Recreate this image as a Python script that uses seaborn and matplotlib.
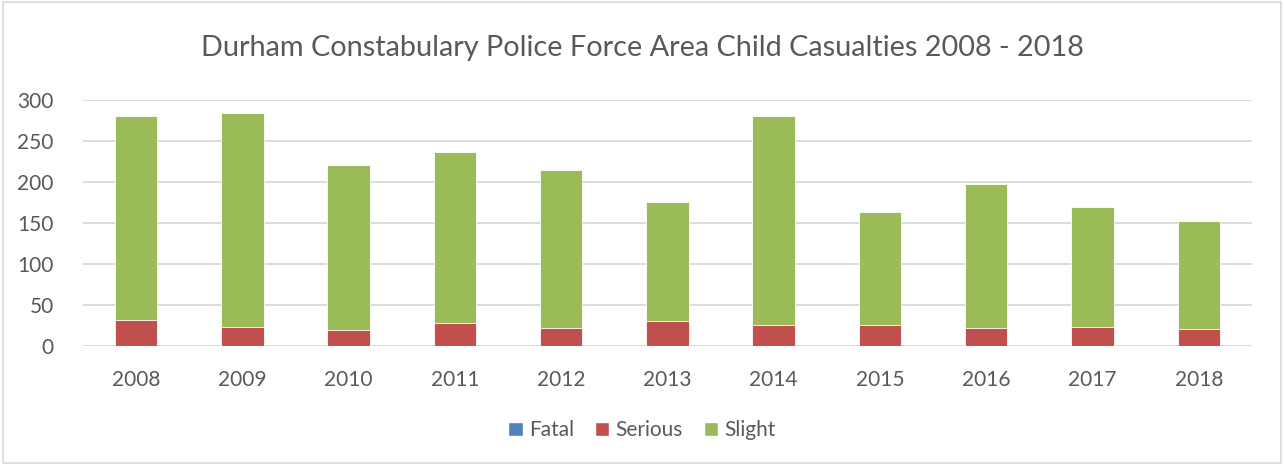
import matplotlib
matplotlib.use("Agg")
import matplotlib.pyplot as plt
import numpy as np
import pandas as pd
import seaborn as sns
from matplotlib.patches import Patch, Rectangle

YEARS = ["2008", "2009", "2010", "2011", "2012", "2013", "2014", "2015", "2016", "2017", "2018"]
FATAL = [0, 0, 0, 0, 0, 0, 0, 0, 0, 0, 0]
SERIOUS = [32, 23, 20, 28, 22, 31, 26, 26, 22, 23, 21]
SLIGHT = [248, 261, 201, 208, 192, 144, 255, 137, 176, 147, 132]

BLUE = "#4F81BD"
RED = "#C0504D"
GREEN = "#9BBB59"
TEXT = "#595959"
GRID = "#D9D9D9"

sns.set_theme(style="white")
plt.rcParams["font.family"] = ["Lato", "DejaVu Sans"]

df = pd.DataFrame({"year": YEARS, "fatal": FATAL, "serious": SERIOUS, "slight": SLIGHT})
df["serious_top"] = df["fatal"] + df["serious"]
df["total"] = df["serious_top"] + df["slight"]

fig = plt.figure(figsize=(12.84, 4.65), dpi=100)
ax = fig.add_axes([0.0646, 0.256, 0.9104, 0.529])

# stacked bars: draw the cumulative heights from top to bottom
for col, color in [("total", GREEN), ("serious_top", RED), ("fatal", BLUE)]:
    sns.barplot(data=df, x="year", y=col, order=YEARS, color=color, width=0.4,
                saturation=1, edgecolor="white", linewidth=0.6, ax=ax)

ax.set_ylim(0, 300)
ax.set_xlim(-0.5, len(YEARS) - 0.5)
ax.set_yticks(range(0, 301, 50))
ax.yaxis.grid(True, color=GRID, linewidth=1.3)
ax.set_axisbelow(True)
for s in ax.spines.values():
    s.set_visible(False)
ax.axhline(0, color=GRID, linewidth=1.3, zorder=0.5)
ax.tick_params(axis="both", length=0, labelsize=15, colors=TEXT)
ax.tick_params(axis="x", pad=17)
ax.tick_params(axis="y", pad=21)
ax.set_xlabel("")
ax.set_ylabel("")

fig.text(0.5, 0.897, "Durham Constabulary Police Force Area Child Casualties 2008 - 2018",
         ha="center", va="center", fontsize=20.8, color=TEXT)

handles = [Patch(facecolor=c, label=l) for c, l in [(BLUE, "Fatal"), (RED, "Serious"), (GREEN, "Slight")]]
fig.legend(handles=handles, loc="center", bbox_to_anchor=(0.5, 0.075), ncol=3, frameon=False,
           fontsize=15, labelcolor=TEXT, handlelength=0.7, handleheight=0.7,
           handletextpad=0.3, columnspacing=1.0)

fig.patches.append(Rectangle((0.002, 0.004), 0.996, 0.992, transform=fig.transFigure,
                             fill=False, edgecolor=GRID, linewidth=1.2))

fig.savefig("out.png", dpi=100, facecolor="white")
